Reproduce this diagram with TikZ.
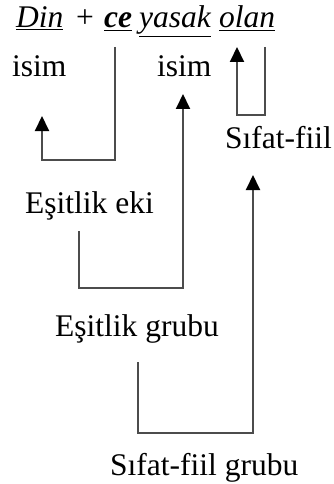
\documentclass[tikz,border=0pt]{standalone}
\usepackage{fontspec}
\setmainfont{Liberation Serif}
\usetikzlibrary{arrows.meta}
\begin{document}
\begin{tikzpicture}[x=1pt,y=-1pt,
  lbl/.style={anchor=base west,inner sep=0pt,font=\fontsize{31.5}{36}\selectfont},
  conn/.style={draw=black!70,line width=2pt},
  arr/.style={conn,-{Triangle[length=15pt,width=14pt,fill=black,color=black]}}]
\useasboundingbox (0,0) rectangle (334,484);
% top row
\node[lbl] (din) at (16,28) {\underline{\textit{Din}}};
\node[lbl] (plus) at (76,28) {+};
\node[lbl] (ce) at (104,28) {\underline{\textbf{\textit{ce}}}};
\node[lbl] (yasak) at (139,28) {\underline{\textit{yasak}}};
\node[lbl] (olan) at (219,28) {\underline{\textit{olan}}};
% labels
\node[lbl] (isimA) at (12,77) {isim};
\node[lbl] (isimB) at (157,77) {isim};
\node[lbl] (sf) at (225,148) {Sıfat-fiil};
\node[lbl] (ee) at (25,213) {Eşitlik eki};
\node[lbl] (eg) at (55,336) {Eşitlik grubu};
\node[lbl] (sfg) at (110,475) {Sıfat-fiil grubu};
% connector points
\coordinate (ceS) at (115,47);
\coordinate (isimAS) at (42,116);
\coordinate (eeS) at (79,231);
\coordinate (isimBS) at (183,94);
\coordinate (olanR) at (265,47);
\coordinate (olanL) at (237,47);
\coordinate (egS) at (138,362);
\coordinate (sfS) at (253,175);
% connectors
\draw[arr] (ceS) |- (42,160) -- (isimAS);
\draw[arr] (eeS) |- (183,288) -- (isimBS);
\draw[arr] (olanR) |- (237,115) -- (olanL);
\draw[arr] (egS) |- (253,433) -- (sfS);
\end{tikzpicture}
\end{document}
